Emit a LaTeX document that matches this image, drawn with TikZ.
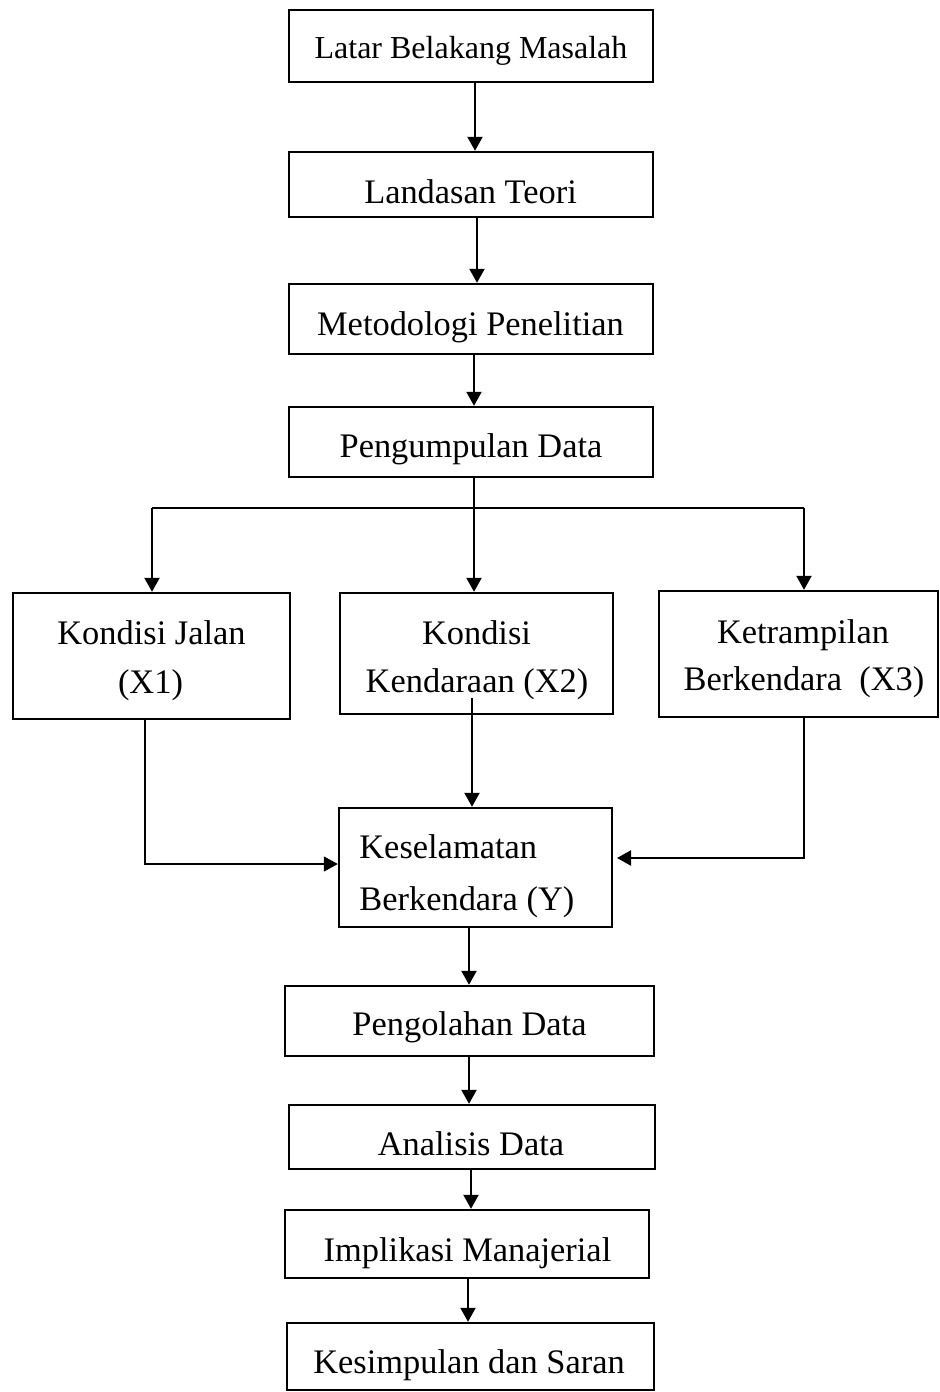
\documentclass[tikz,border=0pt]{standalone}
\usepackage{fontspec}
\setmainfont{Liberation Serif}
\usetikzlibrary{arrows.meta}
\begin{document}
\begin{tikzpicture}[x=0.5pt,y=-0.5pt,
  box/.style 2 args={draw, line width=1.2pt, inner sep=0pt, minimum width=#1, minimum height=#2},
  txt/.style={inner sep=0pt, anchor=base, font=\fontsize{17.2}{20}\selectfont},
  conn/.style={line width=1.1pt},
  arr/.style={conn, -{Triangle[length=7pt,width=7.5pt]}},
  thinarr/.style={line width=0.8pt, -{Triangle[length=7pt,width=7.5pt]}}]
\useasboundingbox (0,0) rectangle (939,1392);
% boxes
\node[box={182pt}{36pt}]     (b1)  at (471,46) {};
\node[box={182pt}{32.5pt}]   (b2)  at (471,184.5) {};
\node[box={182pt}{35pt}]     (b3)  at (471,319) {};
\node[box={182pt}{35pt}]     (b4)  at (471,442) {};
\node[box={138.5pt}{63pt}]   (b5)  at (151.5,656) {};
\node[box={136.5pt}{60.5pt}] (b6)  at (476.5,653.5) {};
\node[box={139.5pt}{63pt}]   (b7)  at (798.5,654) {};
\node[box={136.5pt}{59.5pt}] (b8)  at (475.5,867.5) {};
\node[box={184.5pt}{35pt}]   (b9)  at (469.5,1021) {};
\node[box={183pt}{32pt}]     (b10) at (472,1137) {};
\node[box={182pt}{34pt}]     (b11) at (467,1244) {};
\node[box={183.5pt}{33.5pt}] (b12) at (470.5,1356.5) {};
% texts
\node[txt, font=\fontsize{16}{19}\selectfont] (t1) at (471,58) {Latar Belakang Masalah};
\node[txt] (t2)  at (470.5,203) {Landasan Teori};
\node[txt] (t3)  at (470.5,335) {Metodologi Penelitian};
\node[txt] (t4)  at (471,457) {Pengumpulan Data};
\node[txt] (t5a) at (151.5,644) {Kondisi Jalan};
\node[txt] (t5b) at (150.5,693) {(X1)};
\node[txt] (t6a) at (476.5,644) {Kondisi};
\node[txt] (t6b) at (477,692) {Kendaraan (X2)};
\node[txt] (t7a) at (803,643) {Ketrampilan};
\node[txt] (t7b) at (804,690) {Berkendara\ \ (X3)};
\node[txt, anchor=base west] (t8a) at (359,858) {Keselamatan};
\node[txt, anchor=base west] (t8b) at (359,910) {Berkendara (Y)};
\node[txt] (t9)  at (469.5,1035) {Pengolahan Data};
\node[txt] (t10) at (471,1155) {Analisis Data};
\node[txt] (t11) at (467.5,1261) {Implikasi Manajerial};
\node[txt] (t12) at (469,1373) {Kesimpulan dan Saran};
% guides
\coordinate (g1) at (475,0);
\coordinate (g2) at (477,0);
\coordinate (g3) at (474,0);
\coordinate (g5) at (145,0);
\coordinate (g7) at (804,0);
\coordinate (g8) at (469,0);
\coordinate (g10) at (471,0);
\coordinate (g11) at (468,0);
\coordinate (hL) at (0,864);
\coordinate (hR) at (617,858);
\coordinate (jL) at (152,508);
\coordinate (jR) at (804,508);
\coordinate (s6) at (472,698);
% connectors
\draw[arr] (g1 |- b1.south) -- (g1 |- b2.north);
\draw[arr] (g2 |- b2.south) -- (g2 |- b3.north);
\draw[arr] (g3 |- b3.south) -- (g3 |- b4.north);
\draw[conn] (jL) -- (jR);
\draw[arr] (jL) -- (jL |- b5.north);
\draw[arr] (jR) -- (jR |- b7.north);
\draw[arr] (g3 |- b4.south) -- (g3 |- b6.north);
\draw[thinarr] (g5 |- b5.south) |- (b8.west |- hL);
\draw[arr] (s6) -- (s6 |- b8.north);
\draw[arr] (g7 |- b7.south) |- (hR);
\draw[arr] (g8 |- b8.south) -- (g8 |- b9.north);
\draw[arr] (g8 |- b9.south) -- (g8 |- b10.north);
\draw[arr] (g10 |- b10.south) -- (g10 |- b11.north);
\draw[arr] (g11 |- b11.south) -- (g11 |- b12.north);
\end{tikzpicture}
\end{document}
